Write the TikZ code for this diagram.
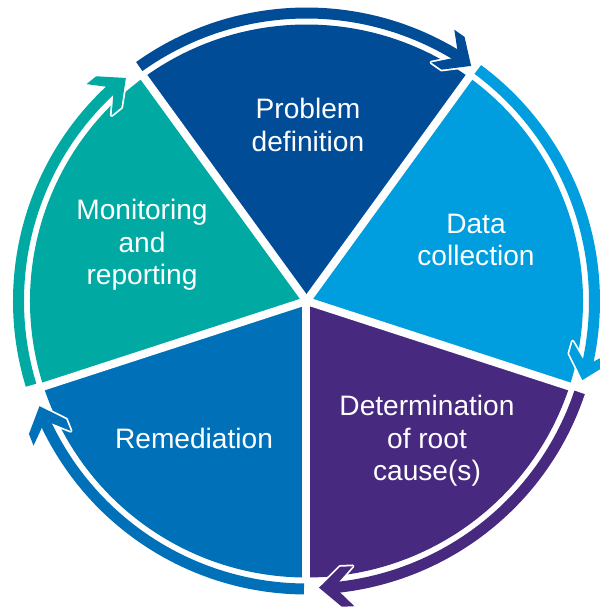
\documentclass[tikz,border=0pt]{standalone}
\usepackage{fontspec}
\setmainfont{Liberation Sans}
\definecolor{probblue}{RGB}{0,76,151}
\definecolor{datablue}{RGB}{0,158,222}
\definecolor{rootpurple}{RGB}{72,41,128}
\definecolor{remblue}{RGB}{0,112,185}
\definecolor{monteal}{RGB}{0,170,163}
\begin{document}
\begin{tikzpicture}[
		line cap=butt,
		line join=round,
		ring/.style={line width=0.22cm},
		sep/.style={white,line width=0.16cm},
		phase/.style={white,align=center,font=\fontsize{16}{18.6}\selectfont},
		halo/.style={draw=white,fill=white,line width=2pt},
		arrowhead/.pic={\path[pic actions] (0,0) -- (-0.44,0.40) -- (-0.69,0.40) -- (-0.31,0) -- (-0.69,-0.40) -- (-0.44,-0.40) -- cycle;}
		]
		\useasboundingbox (-6.13,-6.18) rectangle (5.87,6.02);
		% the five wedges
		\fill[probblue] (0,0) -- (54:5.53) arc[start angle=54,end angle=126,radius=5.53] -- cycle;
		\fill[monteal] (0,0) -- (126:5.53) arc[start angle=126,end angle=198,radius=5.53] -- cycle;
		\fill[remblue] (0,0) -- (198:5.53) arc[start angle=198,end angle=270,radius=5.53] -- cycle;
		\fill[rootpurple] (0,0) -- (270:5.53) arc[start angle=270,end angle=342,radius=5.53] -- cycle;
		\fill[datablue] (0,0) -- (-18:5.53) arc[start angle=-18,end angle=54,radius=5.53] -- cycle;
		\draw[sep] (0,0) -- (54:5.6);
		\draw[sep] (0,0) -- (126:5.6);
		\draw[sep] (0,0) -- (198:5.6);
		\draw[sep] (0,0) -- (270:5.6);
		\draw[sep] (0,0) -- (342:5.6);
		% arrows round the circle
		\pic[halo,rotate=-35] at (55:5.74) {arrowhead};
		\pic[halo,rotate=-106] at (-16:5.74) {arrowhead};
		\pic[halo,rotate=-177.5] at (-87.5:5.74) {arrowhead};
		\pic[halo,rotate=111.5] at (201.5:5.74) {arrowhead};
		\pic[halo,rotate=39] at (129:5.74) {arrowhead};
		\draw[ring,probblue] (125.5:5.76) arc[start angle=125.5,end angle=56.5,radius=5.76];
		\draw[ring,datablue] (53.5:5.76) arc[start angle=53.5,end angle=-14.5,radius=5.76];
		\draw[ring,rootpurple] (-18.5:5.76) arc[start angle=-18.5,end angle=-86,radius=5.76];
		\draw[ring,remblue] (269.5:5.76) arc[start angle=269.5,end angle=203,radius=5.76];
		\draw[ring,monteal] (197:5.76) arc[start angle=197,end angle=130.5,radius=5.76];
		\pic[fill=probblue,rotate=-35] at (55:5.74) {arrowhead};
		\pic[fill=datablue,rotate=-106] at (-16:5.74) {arrowhead};
		\pic[fill=rootpurple,rotate=-177.5] at (-87.5:5.74) {arrowhead};
		\pic[fill=remblue,rotate=111.5] at (201.5:5.74) {arrowhead};
		\pic[fill=monteal,rotate=39] at (129:5.74) {arrowhead};
		% texts
		\node[phase] (problem) at (0.03,3.52) {Problem\\definition};
		\node[phase] (data) at (3.39,1.22) {Data\\collection};
		\node[phase] (root) at (2.41,-2.80) {Determination\\of root\\cause(s)};
		\node[phase] (remedy) at (-2.25,-2.74) {Remediation};
		\node[phase] (monitor) at (-3.29,1.12) {Monitoring\\and\\reporting};
\end{tikzpicture}
\end{document}
